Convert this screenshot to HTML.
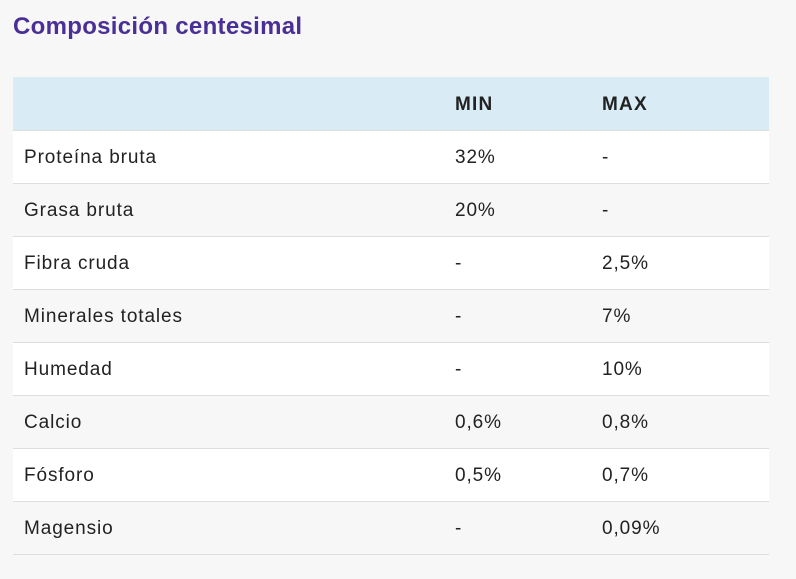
<!DOCTYPE html>
<html><head><meta charset="utf-8"><style>
body{margin:0;background:#f7f7f7;width:796px;height:579px;overflow:hidden;font-family:"Liberation Sans",sans-serif;}
h1{position:absolute;left:13px;top:13px;margin:0;font-size:24px;font-weight:bold;color:#4a2f96;letter-spacing:0.3px;}
table{position:absolute;left:13px;top:77px;width:756px;border-collapse:collapse;}
td,th{height:53px;padding:3px 0 0 0;box-sizing:border-box;border-bottom:1px solid #dedede;font-size:19px;color:#222;letter-spacing:0.9px;text-align:left;}
th{background:#d9ecf5;font-weight:bold;letter-spacing:1.2px;}
td:first-child,th:first-child{padding-left:11px;width:442px;}
td:nth-child(2),th:nth-child(2){width:147px;}
tr:nth-child(odd) td{background:#fff;}
tr:nth-child(even) td{background:#f7f7f7;}
</style></head><body>
<h1>Composición centesimal</h1>
<table>
<thead><tr><th></th><th>MIN</th><th>MAX</th></tr></thead>
<tbody>
<tr><td>Proteína bruta</td><td>32%</td><td>-</td></tr>
<tr><td>Grasa bruta</td><td>20%</td><td>-</td></tr>
<tr><td>Fibra cruda</td><td>-</td><td>2,5%</td></tr>
<tr><td>Minerales totales</td><td>-</td><td>7%</td></tr>
<tr><td>Humedad</td><td>-</td><td>10%</td></tr>
<tr><td>Calcio</td><td>0,6%</td><td>0,8%</td></tr>
<tr><td>Fósforo</td><td>0,5%</td><td>0,7%</td></tr>
<tr><td>Magensio</td><td>-</td><td>0,09%</td></tr>
</tbody></table>
</body></html>
